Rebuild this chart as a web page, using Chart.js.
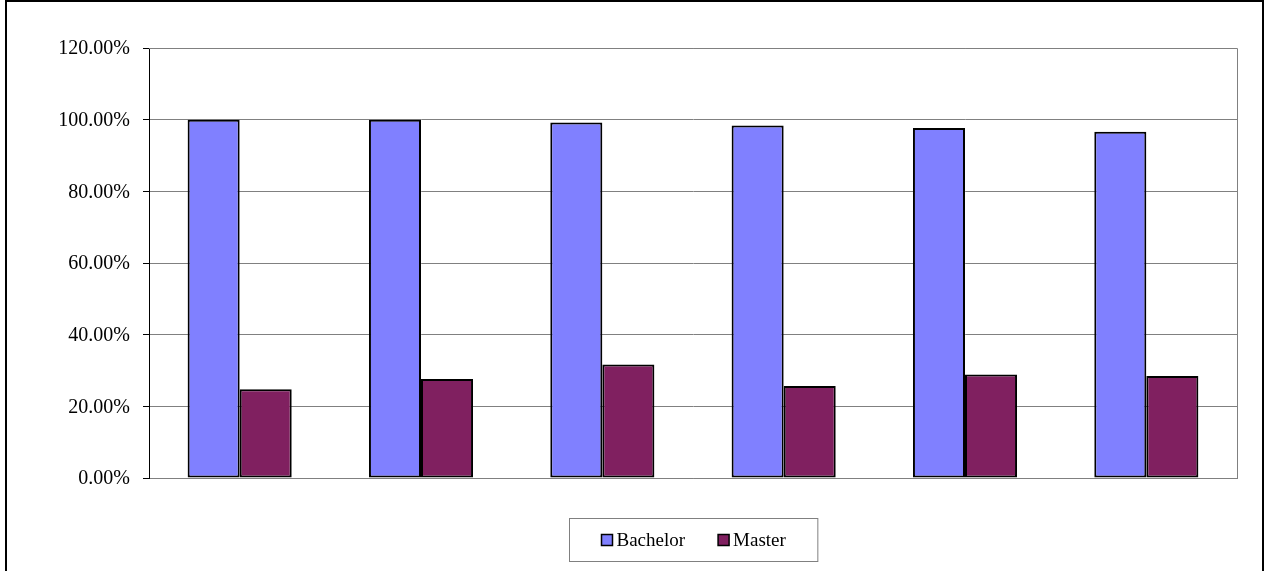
<!DOCTYPE html>
<html>
<head>
<meta charset="utf-8">
<script src="https://cdn.jsdelivr.net/npm/chart.js@4.4.0/dist/chart.umd.min.js"></script>
<style>
  html, body { margin: 0; padding: 0; background: #fff; }
  #wrap { position: relative; width: 1264px; height: 571px; }
</style>
</head>
<body>
<div id="wrap"><canvas id="myChart" width="1264" height="571"></canvas></div>
<script>
const categories = ["1", "2", "3", "4", "5", "6"];
const bachelor = [100.0, 100.0, 99.2, 98.4, 97.7, 96.6];
const master = [24.8, 27.6, 31.7, 25.7, 28.9, 28.5];
const yTicks = [0, 20, 40, 60, 80, 100, 120];

const serif = "'Liberation Serif', 'Times New Roman', serif";

// outer frame + top/right edges of the plot area
const framePlugin = {
  id: "frame",
  beforeDatasetsDraw(chart) {
    const a = chart.chartArea;
    const c = chart.ctx;
    c.save();
    c.strokeStyle = "#808080";
    c.lineWidth = 1;
    c.beginPath();
    c.moveTo(a.left, a.top + 0.5);
    c.lineTo(a.right + 0.5, a.top + 0.5);
    c.lineTo(a.right + 0.5, a.bottom);
    c.stroke();
    c.restore();
  },
  afterDraw(chart) {
    const c = chart.ctx;
    c.save();
    c.strokeStyle = "#000";
    c.lineWidth = 2;
    c.strokeRect(6, 1, 1257, 580);
    c.restore();
  }
};

// boxed legend under the plot, like the spreadsheet one
const boxLegend = {
  id: "boxLegend",
  afterDraw(chart) {
    const c = chart.ctx;
    const a = chart.chartArea;
    const sets = chart.data.datasets;
    c.save();
    c.font = "19px " + serif;
    c.textBaseline = "middle";
    const sq = 11, gap = 4, itemGap = 33, padX = 32;
    let total = 0;
    const widths = sets.map(d => c.measureText(d.label).width);
    widths.forEach(w => total += sq + gap + w);
    total += itemGap * (sets.length - 1);
    const boxW = total + padX * 2;
    const boxH = 43;
    const cx = (a.left + a.right) / 2;
    const bx = Math.round(cx - boxW / 2) + 0.5;
    const by = 518.5;
    c.strokeStyle = "#808080";
    c.lineWidth = 1;
    c.strokeRect(bx, by, boxW, boxH);
    let x = bx + padX;
    const my = by + boxH / 2;
    sets.forEach((d, i) => {
      c.fillStyle = d.backgroundColor;
      c.fillRect(x, my - sq / 2, sq, sq);
      c.strokeStyle = "#000";
      c.lineWidth = 1.5;
      c.strokeRect(x, my - sq / 2, sq, sq);
      c.fillStyle = "#000";
      c.fillText(d.label, x + sq + gap, my + 1);
      x += sq + gap + widths[i] + itemGap;
    });
    c.restore();
  }
};

new Chart("myChart", {
  type: "bar",
  data: {
    labels: categories,
    datasets: [
      {
        label: "Bachelor",
        data: bachelor,
        backgroundColor: "#8080FF",
        borderColor: "#000",
        borderWidth: 2,
        borderSkipped: false,
        inflateAmount: 0
      },
      {
        label: "Master",
        data: master,
        backgroundColor: "#802060",
        borderColor: "#000",
        borderWidth: 2,
        borderSkipped: false,
        inflateAmount: 0
      }
    ]
  },
  options: {
    responsive: false,
    animation: false,
    devicePixelRatio: 1,
    categoryPercentage: 0.574,
    barPercentage: 1.0,
    layout: { padding: { left: 0, right: 27, top: 48, bottom: 93 } },
    plugins: { legend: { display: false }, tooltip: { enabled: false } },
    scales: {
      x: {
        grid: { display: false },
        border: { color: "#808080", width: 1 },
        ticks: { display: false },
        afterFit(s) { s.height = 0; }
      },
      y: {
        min: 0,
        max: 120,
        afterFit(s) { s.width = 149; },
        afterBuildTicks(s) { s.ticks = yTicks.map(v => ({ value: v })); },
        grid: { color: "#808080", tickColor: "#000", tickLength: 6, lineWidth: 1 },
        border: { color: "#000", width: 1 },
        ticks: {
          padding: 13,
          labelOffset: 1,
          color: "#000",
          font: { family: serif, size: 20 },
          callback: v => v.toFixed(2) + "%"
        }
      }
    }
  },
  plugins: [framePlugin, boxLegend]
});
</script>
</body>
</html>
